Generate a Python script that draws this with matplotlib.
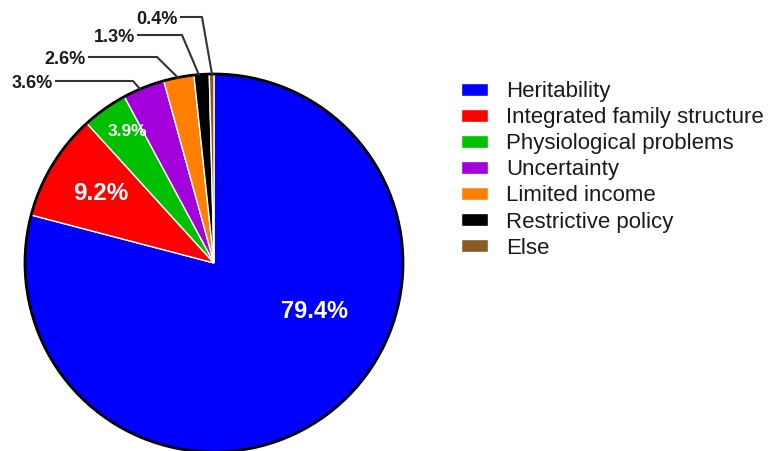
import numpy as np
import matplotlib.pyplot as plt
from matplotlib.patches import Circle

plt.rcParams['font.family'] = ['Liberation Sans', 'DejaVu Sans']

# data
categories = ['Heritability', 'Integrated family structure', 'Physiological problems',
              'Uncertainty', 'Limited income', 'Restrictive policy', 'Else']
values = [79.4, 9.2, 3.9, 3.6, 2.6, 1.3, 0.4]
labels = ['79.4%', '9.2%', '3.9%', '3.6%', '2.6%', '1.3%', '0.4%']
colors = ['#0000FF', '#FF0000', '#00C000', '#A300DB', '#FF8000', '#000000', '#8B5A22']

W, H = 773, 451
cx, cy, R = 214, 263, 189   # pie centre and radius in pixels (y from top)

fig = plt.figure(figsize=(W / 100, H / 100), dpi=100)
ax = fig.add_axes([(cx - R) / W, (H - cy - R) / H, 2 * R / W, 2 * R / H])

wedges, _ = ax.pie(values, colors=colors, startangle=90, counterclock=False,
                   wedgeprops=dict(edgecolor='white', linewidth=1))
ring = Circle((0, 0), 1, fill=False, edgecolor='black', linewidth=2, zorder=5)
ring.set_clip_on(False)
ax.add_patch(ring)
ax.set_xlim(-1, 1)
ax.set_ylim(-1, 1)
ax.set_aspect('equal')


def px(x, y):
    # pixel position -> data coordinates of the pie axes
    return (x - cx) / R, (cy - y) / R


# labels inside the big slices
inside = {0: ((314, 311), 17), 1: ((101, 194), 17.5), 2: ((127, 131), 12.5)}
for i, ((x, y), fs) in inside.items():
    ax.text(*px(x, y), labels[i], color='white', fontsize=fs, fontweight='bold',
            ha='center', va='center')

# labels outside with elbow leader lines: text end, elbow point, fraction of wedge
outside = {3: ((53, 83), (133, 81), 0.59), 4: ((86, 59), (157, 57), 0.53),
           5: ((135, 37), (182, 35), 0.68), 6: ((178, 19), (202, 17), 0.43)}
for i, ((tx, ty), (ex, ey), frac) in outside.items():
    w = wedges[i]
    ang = np.deg2rad(w.theta1 + frac * (w.theta2 - w.theta1))
    sx, sy = np.cos(ang) * 1.0, np.sin(ang) * 1.0
    x0, y0 = px(tx + 3, ey)
    x1, y1 = px(ex, ey)
    ax.plot([x0, x1, sx], [y0, y1, sy], color='#333333', linewidth=1.5,
            clip_on=False, zorder=6)
    ax.text(*px(tx, ty), labels[i], color='#1a1a1a', fontsize=13, fontweight='bold',
            ha='right', va='center')

fig.legend(wedges, categories, loc='upper left', bbox_to_anchor=(441 / W, 1 - 61 / H),
           frameon=False, fontsize=16, handlelength=1.22, handleheight=0.54,
           handletextpad=0.81, labelspacing=0.23, labelcolor='#1a1a1a')

fig.savefig('out.png', dpi=100)
